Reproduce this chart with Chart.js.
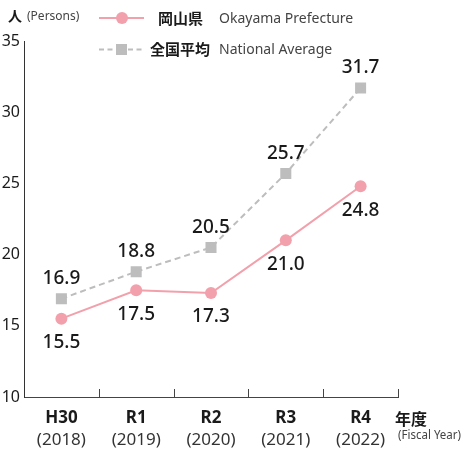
<!DOCTYPE html>
<html><head><meta charset="utf-8">
<script src="https://cdn.jsdelivr.net/npm/chart.js@4"></script>
<style>html,body{margin:0;padding:0;background:#fff;}#wrap{width:463px;height:455px;position:relative;}</style>
</head><body><div id="wrap"><canvas id="c" width="463" height="455"></canvas></div>
<script>
const categories = ['H30', 'R1', 'R2', 'R3', 'R4'];
const years = ['(2018)', '(2019)', '(2020)', '(2021)', '(2022)'];
const okayama = [15.5, 17.5, 17.3, 21.0, 24.8];
const national = [16.9, 18.8, 20.5, 25.7, 31.7];
const yMin = 10, yMax = 35, yStep = 5;
const seriesJa = ['岡山県', '全国平均'];
const seriesEn = ['Okayama Prefecture', 'National Average'];
const unitJa = '人', unitEn = '(Persons)', xUnitJa = '年度', xUnitEn = '(Fiscal Year)';

const FONT = '"Noto Sans", "Noto Sans CJK JP", sans-serif';
const JFONT = '"Noto Sans CJK JP", "Noto Sans", sans-serif';
const PINK = '#F2A0AB', GRAY = '#BDBDBD', AXIS = '#444', TXT = '#1a1a1a';

const overlay = {
  id: 'overlay',
  afterDatasetsDraw(chart) {
    const ctx = chart.ctx;
    ctx.save();
    ctx.font = '500 19px ' + FONT;
    ctx.fillStyle = TXT; ctx.textAlign = 'center'; ctx.textBaseline = 'middle';
    const offs = [24, -20];
    chart.data.datasets.forEach((ds, di) => {
      const meta = chart.getDatasetMeta(di);
      meta.data.forEach((pt, i) => {
        ctx.fillText(ds.data[i].toFixed(1), pt.x, pt.y + offs[di]);
      });
    });
    ctx.restore();
  },
  afterDraw(chart) {
    const ctx = chart.ctx, xs = chart.scales.x, ys = chart.scales.y;
    ctx.save();
    // inward ticks at category boundaries
    ctx.strokeStyle = AXIS; ctx.lineWidth = 1;
    const step = xs.getPixelForTick(1) - xs.getPixelForTick(0);
    for (let i = 0; i < categories.length; i++) {
      const x = Math.round(xs.getPixelForTick(i) + step / 2) + 0.5;
      ctx.beginPath(); ctx.moveTo(x, ys.bottom - 8); ctx.lineTo(x, ys.bottom); ctx.stroke();
    }
    // year line under categories
    ctx.font = '17px ' + FONT; ctx.fillStyle = '#333';
    ctx.textAlign = 'center'; ctx.textBaseline = 'middle';
    years.forEach((t, i) => ctx.fillText(t, xs.getPixelForTick(i), 440));
    // x unit
    ctx.font = 'bold 16px ' + JFONT; ctx.fillStyle = TXT; ctx.textAlign = 'left';
    ctx.fillText(xUnitJa, 395, 419);
    ctx.font = '12px ' + FONT; ctx.fillStyle = '#444';
    ctx.fillText(xUnitEn, 398, 436, 63);
    // y unit
    ctx.font = 'bold 14px ' + JFONT; ctx.fillStyle = TXT;
    ctx.fillText(unitJa, 8, 16);
    ctx.font = '12px ' + FONT; ctx.fillStyle = '#444';
    ctx.fillText(unitEn, 27, 17);
    // legend row 1
    ctx.strokeStyle = PINK; ctx.lineWidth = 2;
    ctx.beginPath(); ctx.moveTo(99, 18); ctx.lineTo(144, 18); ctx.stroke();
    ctx.fillStyle = PINK; ctx.beginPath(); ctx.arc(122, 18, 6, 0, Math.PI * 2); ctx.fill();
    ctx.font = 'bold 15px ' + JFONT; ctx.fillStyle = TXT;
    ctx.fillText(seriesJa[0], 158, 18);
    ctx.font = '14px ' + FONT; ctx.fillStyle = '#444';
    ctx.fillText(seriesEn[0], 219, 19);
    // legend row 2
    ctx.strokeStyle = GRAY; ctx.lineWidth = 2; ctx.setLineDash([5, 3.5]);
    ctx.beginPath(); ctx.moveTo(99, 49.5); ctx.lineTo(116, 49.5); ctx.stroke();
    ctx.beginPath(); ctx.moveTo(128, 49.5); ctx.lineTo(145, 49.5); ctx.stroke();
    ctx.setLineDash([]);
    ctx.fillStyle = GRAY; ctx.fillRect(116, 44, 11, 11);
    ctx.font = 'bold 15px ' + JFONT; ctx.fillStyle = TXT;
    ctx.fillText(seriesJa[1], 150, 49);
    ctx.font = '14px ' + FONT; ctx.fillStyle = '#444';
    ctx.fillText(seriesEn[1], 219, 50);
    ctx.restore();
  }
};

new Chart(document.getElementById('c'), {
  type: 'line',
  data: {
    labels: categories,
    datasets: [
      {
        label: seriesEn[0], data: okayama,
        borderColor: PINK, backgroundColor: PINK, borderWidth: 2,
        pointStyle: 'circle', pointRadius: 6, pointBackgroundColor: PINK, pointBorderColor: PINK, pointBorderWidth: 0,
        tension: 0, fill: false
      },
      {
        label: seriesEn[1], data: national,
        borderColor: GRAY, backgroundColor: GRAY, borderWidth: 2, borderDash: [6, 4],
        pointStyle: 'rect', pointRadius: 7.8, pointBackgroundColor: GRAY, pointBorderColor: GRAY, pointBorderWidth: 0,
        tension: 0, fill: false
      }
    ]
  },
  options: {
    responsive: false, animation: false, devicePixelRatio: 1,
    layout: { padding: { top: 41, right: 65, left: 0, bottom: 0 } },
    plugins: { legend: { display: false }, tooltip: { enabled: false } },
    scales: {
      x: {
        offset: true,
        grid: { display: false, drawTicks: false },
        border: { display: true, color: AXIS, width: 1 },
        ticks: { color: TXT, font: { family: FONT, size: 17, weight: 'bold' }, padding: 11, maxRotation: 0 },
        afterFit(s) { s.height = 58; }
      },
      y: {
        min: yMin, max: yMax,
        grid: { display: false, drawTicks: false },
        border: { display: true, color: '#333', width: 1 },
        ticks: { stepSize: yStep, color: TXT, font: { family: FONT, size: 16 }, padding: 4 },
        afterFit(s) { s.width = 24; }
      }
    }
  },
  plugins: [overlay]
});
</script></body></html>
